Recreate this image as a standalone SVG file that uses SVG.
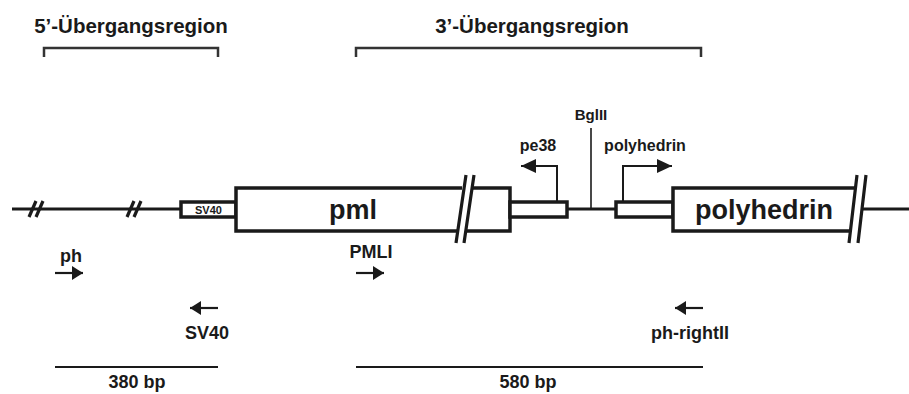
<svg xmlns="http://www.w3.org/2000/svg" width="909" height="394" viewBox="0 0 909 394">
<defs>
<style>
text{font-family:"Liberation Sans",Arial,sans-serif;font-weight:bold;fill:#1a1a1a;text-anchor:middle}
.t{font-size:20.5px}
.lbl{font-size:18px}
.sm{font-size:16px}
.big{font-size:27px}
.ln{stroke:#1a1a1a;fill:none;stroke-width:3}
.box{stroke:#1a1a1a;fill:#fff;stroke-width:3.5}
.br{stroke:#333;fill:none;stroke-width:2.5}
.pr{stroke:#1a1a1a;fill:none;stroke-width:2.2;marker-end:url(#ah)}
.pm{stroke:#1a1a1a;fill:none;stroke-width:2;marker-end:url(#ah2)}
.sl{stroke:#1a1a1a;fill:none;stroke-width:3.2}
</style>
<marker id="ah" markerUnits="userSpaceOnUse" markerWidth="12" markerHeight="14" refX="11" refY="7" orient="auto"><path d="M0,0 L11,7 L0,14 Z" fill="#1a1a1a"/></marker>
<marker id="ah2" markerUnits="userSpaceOnUse" markerWidth="16" markerHeight="14" refX="15" refY="7" orient="auto"><path d="M0,0 L15,7 L0,14 Z" fill="#1a1a1a"/></marker>
</defs>
<rect width="909" height="394" fill="#fff"/>

<g id="titles">
<text class="t" x="131" y="33">5’-Übergangsregion</text>
<path class="br" d="M44,57 V48 H218 V57"/>
<text class="t" x="532" y="33">3’-Übergangsregion</text>
<path class="br" d="M356,57 V48 H701 V57"/>
</g>

<g id="connectors">
<line class="ln" x1="12" y1="209" x2="182" y2="209"/>
<line class="ln" x1="567" y1="209" x2="616" y2="209"/>
<line class="ln" x1="862" y1="209" x2="909" y2="209"/>
<path class="sl" d="M29,217 L36,201 M36,217 L43,201"/>
<path class="sl" d="M127,217 L134,201 M134,217 L141,201"/>
<line x1="591" y1="128" x2="591" y2="209" stroke="#1a1a1a" stroke-width="1.6"/>
</g>

<g id="sv40-box">
<rect class="box" x="181" y="202" width="55" height="15"/>
<text x="208.5" y="213.5" style="font-size:11px">SV40</text>
</g>

<g id="pml-box">
<path class="box" d="M462,188 H236 V231 H457"/>
<path class="box" d="M471,188 H510 V231 H466"/>
<path class="sl" d="M466,175 L456,243 M474,175 L464,243"/>
<text class="big" x="353" y="219">pml</text>
</g>

<g id="pe38-box">
<rect class="box" x="510" y="202" width="57" height="15"/>
<path class="pm" d="M557,202 V166 H521"/>
<text class="sm" x="538" y="151">pe38</text>
</g>

<g id="bglii">
<text x="591" y="120" style="font-size:15px">BglII</text>
</g>

<g id="polyhedrin-promoter">
<rect class="box" x="616" y="202" width="57" height="15"/>
<path class="pm" d="M623,202 V166 H672"/>
<text class="sm" x="645" y="151">polyhedrin</text>
</g>

<g id="polyhedrin-box">
<path class="box" d="M855,188 H673 V231 H849"/>
<path class="sl" d="M857,175 L849,243 M866,175 L858,243"/>
<text class="big" x="764" y="219">polyhedrin</text>
</g>

<g id="primer-ph">
<text class="lbl" x="71" y="262">ph</text>
<line class="pr" x1="55" y1="273" x2="83" y2="273"/>
</g>
<g id="primer-sv40">
<line class="pr" x1="218" y1="308" x2="190" y2="308"/>
<text class="lbl" x="207" y="339">SV40</text>
</g>
<g id="primer-pmli">
<text class="lbl" x="371" y="258">PMLI</text>
<line class="pr" x1="356" y1="273" x2="384" y2="273"/>
</g>
<g id="primer-phright">
<line class="pr" x1="703" y1="308" x2="675" y2="308"/>
<text class="lbl" x="690" y="339">ph-rightII</text>
</g>

<g id="product-380">
<line x1="55" y1="367" x2="218" y2="367" stroke="#1a1a1a" stroke-width="2.2"/>
<text class="lbl" x="137" y="388">380 bp</text>
</g>
<g id="product-580">
<line x1="356" y1="367" x2="703" y2="367" stroke="#1a1a1a" stroke-width="2.2"/>
<text class="lbl" x="528" y="388">580 bp</text>
</g>
</svg>
